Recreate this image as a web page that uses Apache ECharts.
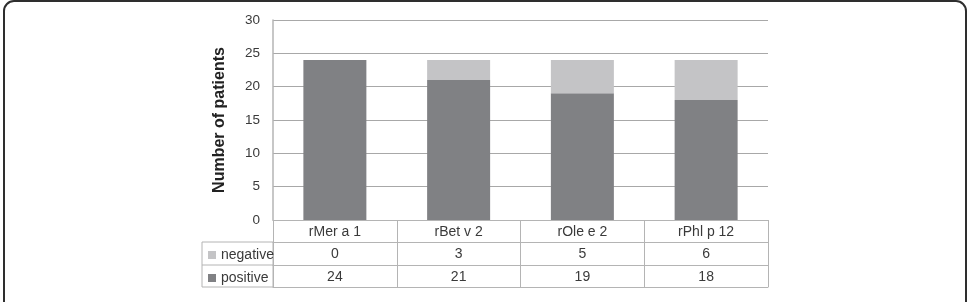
<!DOCTYPE html>
<html>
<head>
<meta charset="utf-8">
<script src="https://cdn.jsdelivr.net/npm/echarts@6/dist/echarts.min.js"></script>
<style>
  html, body { margin: 0; padding: 0; background: #fff; }
  #main { width: 971px; height: 302px; }
</style>
</head>
<body>
<div id="main"></div>
<script>
  var categories = ['rMer a 1', 'rBet v 2', 'rOle e 2', 'rPhl p 12'];
  var negative = [0, 3, 5, 6];
  var positive = [24, 21, 19, 18];
  var yTicks = { min: 0, max: 30, interval: 5 };

  var font = 'Liberation Sans, Arial, Helvetica, sans-serif';
  var lineColor = '#b4b4b4';

  var chart = echarts.init(document.getElementById('main'));

  // one category axis per table row, stacked downward with offsets
  function rowAxis(offset, values, showTicks) {
    return {
      type: 'category',
      data: categories,
      position: 'bottom',
      offset: offset,
      axisLine: { show: true, lineStyle: { color: lineColor, width: 1 } },
      axisTick: { show: showTicks, length: 67, interval: 0, lineStyle: { color: lineColor } },
      axisLabel: {
        show: values !== null,
        interval: 0,
        margin: 5,
        fontFamily: font,
        fontSize: 14,
        color: '#3a3a3a',
        formatter: function (v, i) { return values ? String(values[i]) : ''; }
      },
      splitLine: { show: false }
    };
  }

  var option = {
    backgroundColor: '#fff',
    animation: false,
    grid: { left: 273, right: 203, top: 20, bottom: 82 },
    legend: {
      data: ['negative', 'positive'],
      orient: 'vertical',
      left: 203,
      top: 242,
      icon: 'rect',
      itemWidth: 8,
      itemHeight: 8,
      itemGap: 7,
      selectedMode: false,
      textStyle: { fontFamily: font, fontSize: 14, color: '#3a3a3a', lineHeight: 16 }
    },
    xAxis: [
      rowAxis(0, categories, true),
      rowAxis(22, negative, false),
      rowAxis(45, positive, false),
      rowAxis(67, null, false)
    ],
    yAxis: {
      type: 'value',
      min: yTicks.min,
      max: yTicks.max,
      interval: yTicks.interval,
      name: 'Number of patients',
      nameLocation: 'middle',
      nameRotate: 90,
      nameGap: 45,
      nameTextStyle: { fontFamily: font, fontSize: 16, fontWeight: 'bold', color: '#222' },
      axisLine: { show: true, lineStyle: { color: lineColor, width: 1.5 } },
      axisTick: { show: false },
      axisLabel: { margin: 13, fontFamily: font, fontSize: 13.5, color: '#3a3a3a' },
      splitLine: { show: true, lineStyle: { color: '#a8a8a8', width: 1 } }
    },
    series: [
      {
        name: 'positive',
        type: 'bar',
        stack: 'total',
        barWidth: 63,
        data: positive,
        itemStyle: { color: '#808184' }
      },
      {
        name: 'negative',
        type: 'bar',
        stack: 'total',
        barWidth: 63,
        data: negative,
        itemStyle: { color: '#c4c4c6' }
      }
    ],
    graphic: [
      // outer rounded frame of the figure
      {
        type: 'rect',
        shape: { x: 4, y: 1, width: 962, height: 400, r: 10 },
        style: { fill: 'none', stroke: '#2e2e2e', lineWidth: 2 },
        silent: true
      },
      // legend column of the data table
      {
        type: 'rect',
        shape: { x: 202, y: 242, width: 71, height: 45 },
        style: { fill: 'none', stroke: lineColor, lineWidth: 1 },
        silent: true
      },
      {
        type: 'line',
        shape: { x1: 202, y1: 265, x2: 273, y2: 265 },
        style: { stroke: lineColor, lineWidth: 1 },
        silent: true
      }
    ]
  };

  chart.setOption(option);
</script>
</body>
</html>
